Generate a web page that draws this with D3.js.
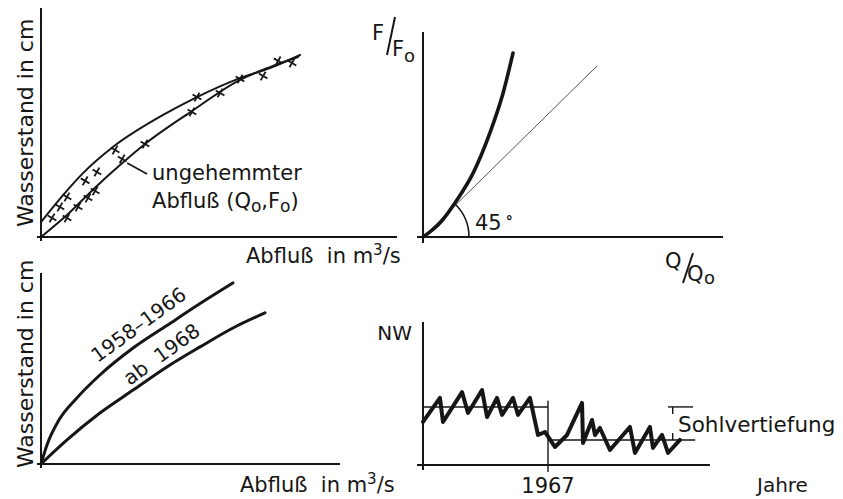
<!DOCTYPE html>
<html>
<head>
  <meta charset="utf-8">
  <title>Wasserstand und Abfluß</title>
  <script src="https://d3js.org/d3.v7.min.js"></script>
  <style>
    body { margin: 0; background: #fff; }
    text { font-family: "DejaVu Sans", sans-serif; fill: #161616; }
    .axis { stroke: #161616; stroke-width: 2; }
  </style>
</head>
<body>
  <svg id="chart" width="843" height="499"></svg>
  <script>
    // --- oben links: Messpunkte und zwei Abflusskurven ---
    const pointsQ = [3.1, 7.3, 5.3, 7.3, 10.4, 13.2, 15.2, 12.4, 15.7, 20.8, 22.8, 29.2, 42.4, 43.8, 50.3, 55.9, 62.4, 66.6, 70.5];
    const pointsW = [8.3, 8.3, 13.1, 17.5, 13.1, 17.0, 20.1, 24.5, 28.4, 38.0, 34.1, 40.6, 54.6, 61.1, 62.9, 69.0, 70.3, 76.9, 76.0];
    const upperQ = [0, 6.2, 11.8, 20.2, 34.3, 43.8, 55.9, 64.3, 72.8];
    const upperW = [6.5, 18.3, 27.9, 39.3, 53.3, 61.1, 69.4, 73.8, 79.5];
    const lowerQ = [0, 7.3, 15.7, 22.2, 29.2, 42.4, 55.9, 64.3, 72.2];
    const lowerW = [0, 9.6, 22.3, 31.4, 40.6, 55.0, 68.6, 74.2, 78.6];

    // --- oben rechts: F/Fo über Q/Qo ---
    const ratioQ = [0, 5.7, 11.3, 16.7, 22.3, 26.7, 30];
    const ratioF = [0, 4.7, 12.3, 21.3, 34.7, 48, 61.3];
    const tangentQ = [0, 58];
    const tangentF = [0, 57];

    // --- unten links: Kurven vor und nach der Sohlvertiefung ---
    const curveLabels = ["1958–1966", "ab  1968"];
    const oldQ = [0, 2, 6, 12, 19.7, 30.8, 42.1, 53.2, 64.2];
    const oldW = [0, 10, 23, 34.6, 46.6, 60.7, 72.5, 84, 94.8];
    const newQ = [0, 8.7, 19.7, 30.8, 42.1, 53.2, 64.2, 74.9];
    const newW = [0, 12.6, 26.7, 38.7, 50.8, 61.3, 71.2, 79.1];

    // --- unten rechts: NW-Ganglinie ---
    const years = [1958.0, 1959.22, 1959.44, 1960.81, 1961.24, 1962.25, 1962.61, 1963.33, 1963.69, 1964.48, 1964.84, 1965.70,
      1966.28, 1966.78, 1967.50, 1968.37, 1969.45, 1969.52, 1970.17, 1970.38, 1970.74, 1971.46, 1972.90, 1973.26,
      1974.34, 1974.56, 1975.21, 1975.64, 1976.50];
    const nw = [30.1, 46.9, 30.1, 51.0, 36.4, 52.4, 33.6, 46.9, 35.0, 46.9, 35.0, 46.9,
      21.0, 23.1, 12.6, 21.0, 43.4, 15.4, 31.5, 21.0, 25.9, 10.5, 26.6, 8.4,
      26.6, 11.9, 21.0, 8.4, 17.5];
    const breakYear = 1967;
    const meanBefore = 40.6;
    const meanAfter = 17.5;

    const svg = d3.select("#chart");
    const ink = "#161616";

    function drawLine(xs, ys, x, y, width, curve) {
      const line = d3.line()
        .x(d => x(d[0]))
        .y(d => y(d[1]))
        .curve(curve || d3.curveLinear);
      return svg.append("path")
        .attr("d", line(d3.zip(xs, ys)))
        .attr("fill", "none")
        .attr("stroke", ink)
        .attr("stroke-width", width)
        .attr("stroke-linejoin", "round")
        .attr("stroke-linecap", "round");
    }

    function axisLine(x1, y1, x2, y2) {
      svg.append("line").attr("class", "axis")
        .attr("x1", x1).attr("y1", y1).attr("x2", x2).attr("y2", y2);
    }

    function label(x, y, str, size, anchor) {
      return svg.append("text")
        .attr("x", x).attr("y", y)
        .attr("font-size", size)
        .attr("text-anchor", anchor || "start")
        .text(str);
    }

    function yTitle(x, y) {
      label(0, 0, "Wasserstand in cm", 22).attr("transform", `translate(${x},${y}) rotate(-90)`);
    }

    function abflussTitle(x, y) {
      const t = label(x, y, "", 21).attr("xml:space", "preserve");
      t.append("tspan").text("Abfluß  in m");
      t.append("tspan").attr("dy", -8).attr("font-size", 15).text("3");
      t.append("tspan").attr("dy", 8).text("/s");
    }

    // ===== Panel A =====
    const xA = d3.scaleLinear().domain([0, 100]).range([41, 397]);
    const yA = d3.scaleLinear().domain([0, 100]).range([237, 8]);
    axisLine(xA(0) - 4, yA(0), xA(100), yA(0));
    axisLine(xA(0), yA(0) + 4, xA(0), yA(100));
    drawLine(upperQ, upperW, xA, yA, 2, d3.curveMonotoneX);
    drawLine(lowerQ, lowerW, xA, yA, 2, d3.curveMonotoneX);

    const crossPath = "M0,-5L0,5M-5,0L5,0";
    svg.append("g").selectAll("path")
      .data(d3.zip(pointsQ, pointsW))
      .join("path")
      .attr("d", crossPath)
      .attr("transform", d => `translate(${xA(d[0])},${yA(d[1])}) rotate(30)`)
      .attr("stroke", ink)
      .attr("stroke-width", 1.8);

    // Hinweislinie zur Beschriftung
    svg.append("line")
      .attr("x1", xA(24.2)).attr("y1", yA(32.3))
      .attr("x2", xA(29.8)).attr("y2", yA(27.5))
      .attr("stroke", ink).attr("stroke-width", 1.6);
    label(xA(31.2), yA(24.9), "ungehemmter", 21);
    const sub = label(xA(31.2), yA(12.7), "", 21).attr("xml:space", "preserve");
    sub.append("tspan").text("Abfluß (Q");
    sub.append("tspan").attr("dy", 4).attr("font-size", 17).text("o");
    sub.append("tspan").attr("dy", -4).text(",F");
    sub.append("tspan").attr("dy", 4).attr("font-size", 17).text("o");
    sub.append("tspan").attr("dy", -4).text(")");

    yTitle(33, 227);
    abflussTitle(246, 263);

    // ===== Panel B =====
    const xB = d3.scaleLinear().domain([0, 100]).range([423, 723]);
    const yB = d3.scaleLinear().domain([0, 100]).range([237, -63]);
    axisLine(xB(0) - 6, yB(0), xB(100), yB(0));
    axisLine(xB(0), yB(0) + 6, xB(0), yB(68.3));
    drawLine(tangentQ, tangentF, xB, yB, 1, d3.curveLinear).attr("stroke", "#555");
    drawLine(ratioQ, ratioF, xB, yB, 3.6, d3.curveMonotoneX);

    const arc = d3.path();
    const r = 46;
    arc.moveTo(xB(0) + r, yB(0));
    arc.arc(xB(0), yB(0), r, 0, -Math.PI / 4, true);
    svg.append("path").attr("d", arc.toString())
      .attr("fill", "none").attr("stroke", ink).attr("stroke-width", 1.6);
    const deg = label(475, 230, "45", 21);
    deg.append("tspan").attr("dx", 4).attr("dy", -4).attr("font-size", 14).attr("font-weight", "bold").text("°");

    // F/Fo
    label(372, 40, "F", 21);
    svg.append("line").attr("x1", 395).attr("y1", 17).attr("x2", 387).attr("y2", 55)
      .attr("stroke", ink).attr("stroke-width", 2);
    label(392, 56, "F", 21);
    label(404, 62, "o", 18);
    // Q/Qo
    label(665, 268, "Q", 21);
    svg.append("line").attr("x1", 693).attr("y1", 253).attr("x2", 683).attr("y2", 283)
      .attr("stroke", ink).attr("stroke-width", 2);
    label(687, 281, "Q", 21);
    label(704, 284, "o", 18);

    // ===== Panel C =====
    const xC = d3.scaleLinear().domain([0, 100]).range([41, 340]);
    const yC = d3.scaleLinear().domain([0, 100]).range([464, 273]);
    axisLine(xC(0) - 4, yC(0), xC(100), yC(0));
    axisLine(xC(0), yC(0) + 4, xC(0), yC(100));
    drawLine(oldQ, oldW, xC, yC, 3, d3.curveMonotoneX);
    drawLine(newQ, newW, xC, yC, 3, d3.curveMonotoneX);
    label(0, 0, curveLabels[0], 20, "middle")
      .attr("transform", `translate(${xC(34)},${yC(69.9)}) rotate(-36)`);
    label(0, 0, curveLabels[1], 20, "middle").attr("xml:space", "preserve")
      .attr("transform", `translate(${xC(41.7)},${yC(54.5)}) rotate(-36)`);

    yTitle(33, 468);
    abflussTitle(240, 492);

    // ===== Panel D =====
    const xD = d3.scaleLinear().domain([1958, 1967]).range([423, 548]);
    const yD = d3.scaleLinear().domain([0, 100]).range([465, 322]);
    axisLine(xD(1958) - 6, yD(0), xD(1978.66), yD(0));
    axisLine(xD(1958), yD(0) + 5, xD(1958), yD(100));
    svg.append("line").attr("x1", xD(breakYear)).attr("y1", yD(45)).attr("x2", xD(breakYear)).attr("y2", yD(0) + 7)
      .attr("stroke", ink).attr("stroke-width", 1.4);
    svg.append("line").attr("x1", xD(1958)).attr("y1", yD(meanBefore)).attr("x2", xD(breakYear)).attr("y2", yD(meanBefore))
      .attr("stroke", ink).attr("stroke-width", 1.4);
    svg.append("line").attr("x1", xD(breakYear)).attr("y1", yD(meanAfter)).attr("x2", xD(1977.6)).attr("y2", yD(meanAfter))
      .attr("stroke", ink).attr("stroke-width", 1.4);
    drawLine(years, nw, xD, yD, 4, d3.curveLinear);

    // Sohlvertiefung: Maßlinie
    svg.append("line").attr("x1", xD(1975.64)).attr("y1", yD(meanBefore)).attr("x2", xD(1977.44)).attr("y2", yD(meanBefore))
      .attr("stroke", ink).attr("stroke-width", 1.4);
    svg.append("line").attr("x1", xD(1975.98)).attr("y1", yD(meanBefore)).attr("x2", xD(1975.98)).attr("y2", yD(meanBefore) + 7)
      .attr("stroke", ink).attr("stroke-width", 1.4);
    svg.append("line").attr("x1", xD(1975.98)).attr("y1", yD(meanAfter) - 7).attr("x2", xD(1975.98)).attr("y2", yD(meanAfter))
      .attr("stroke", ink).attr("stroke-width", 1.4);
    label(678, 432, "Sohlvertiefung", 21.5);

    label(412, 340, "NW", 20, "end");
    label(xD(breakYear), 493, "1967", 21, "middle");
    label(757, 492, "Jahre", 20);
  </script>
</body>
</html>
